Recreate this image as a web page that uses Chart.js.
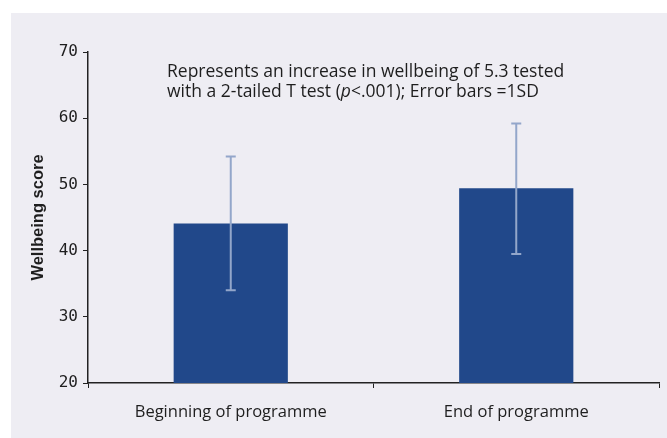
<!DOCTYPE html>
<html>
<head>
<meta charset="utf-8">
<script src="https://cdn.jsdelivr.net/npm/chart.js@4"></script>
<style>
  body { margin: 0; background: #ffffff; }
  #wrap { width: 667px; height: 438px; position: relative; }
</style>
</head>
<body>
<div id="wrap"><canvas id="chart"></canvas></div>
<script>
// Data
const categories = ["Beginning of programme", "End of programme"];
const meanScores = [44.1, 49.4];
const errLow = [34.0, 39.5];
const errHigh = [54.2, 59.2];
const yMin = 20, yMax = 70, yStep = 10;
const noteLine1 = "Represents an increase in wellbeing of 5.3 tested";
const noteLine2 = ["with a 2-tailed T test (", "p", "<.001); Error bars =1SD"];

const panelBg = "#eeedf3";
const barColor = "#21488a";
const errColor = "#93a6ca";
const textColor = "#1e1e1e";

// grey panel behind everything
const panelPlugin = {
  id: "panel",
  beforeDraw(chart) {
    const ctx = chart.ctx;
    ctx.save();
    ctx.fillStyle = panelBg;
    ctx.fillRect(11, 13, chart.width - 11, chart.height - 13);
    ctx.restore();
  }
};

// error bars, 1 SD
const errorBarPlugin = {
  id: "errorBars",
  afterDatasetsDraw(chart) {
    const ctx = chart.ctx;
    const y = chart.scales.y;
    const meta = chart.getDatasetMeta(0);
    ctx.save();
    ctx.strokeStyle = errColor;
    ctx.lineWidth = 2;
    meta.data.forEach((bar, i) => {
      const top = y.getPixelForValue(errHigh[i]);
      const bot = y.getPixelForValue(errLow[i]);
      ctx.beginPath();
      ctx.moveTo(bar.x, top);
      ctx.lineTo(bar.x, bot);
      ctx.moveTo(bar.x - 5, top);
      ctx.lineTo(bar.x + 5, top);
      ctx.moveTo(bar.x - 5, bot);
      ctx.lineTo(bar.x + 5, bot);
      ctx.stroke();
    });
    ctx.restore();
  }
};

// note text in the plot
const notePlugin = {
  id: "note",
  afterDraw(chart) {
    const ctx = chart.ctx;
    const font = "17.5px 'Open Sans'";
    ctx.save();
    ctx.fillStyle = textColor;
    ctx.textBaseline = "middle";
    ctx.textAlign = "left";
    ctx.font = font;
    ctx.fillText(noteLine1, 167, 72);
    let x = 167;
    noteLine2.forEach((part, i) => {
      ctx.font = i === 1 ? "italic " + font : font;
      ctx.fillText(part, x, 92);
      x += ctx.measureText(part).width;
    });
    ctx.restore();
  }
};

new Chart(document.getElementById("chart"), {
  type: "bar",
  data: {
    labels: categories,
    datasets: [{
      data: meanScores,
      backgroundColor: barColor,
      borderWidth: 0,
      categoryPercentage: 1,
      barPercentage: 0.4
    }]
  },
  options: {
    responsive: true,
    maintainAspectRatio: false,
    animation: false,
    layout: { padding: { top: 52, right: 8, left: 0, bottom: 0 } },
    plugins: { legend: { display: false }, tooltip: { enabled: false } },
    scales: {
      x: {
        afterFit: s => { s.height = 55; },
        border: { color: "#222", width: 1.5 },
        grid: { drawOnChartArea: false, color: "#222", tickLength: 5, lineWidth: 1 },
        ticks: { color: textColor, padding: 14, font: { family: "'Open Sans'", size: 16.5 } }
      },
      y: {
        min: yMin,
        max: yMax,
        afterFit: s => { s.width = 88; },
        border: { color: "#222", width: 1.5 },
        grid: { drawOnChartArea: false, color: "#222", tickLength: 5 },
        ticks: { stepSize: yStep, color: textColor, padding: 5, font: { family: "'DejaVu Sans Mono'", size: 16 } },
        title: {
          display: true,
          text: "Wellbeing score",
          color: textColor,
          padding: { top: 29, bottom: 0 },
          font: { family: "'Liberation Sans'", size: 16.5, weight: "bold" }
        }
      }
    }
  },
  plugins: [panelPlugin, errorBarPlugin, notePlugin]
});
</script>
</body>
</html>
